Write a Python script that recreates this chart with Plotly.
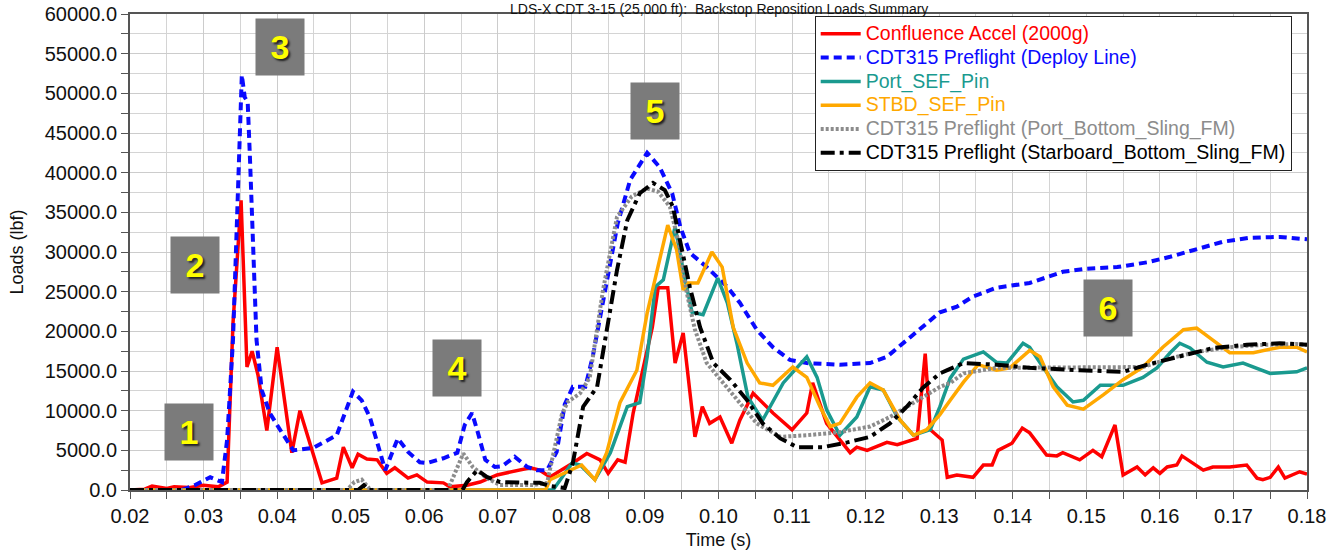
import plotly.graph_objects as go

# ---------------- data (time in s, loads in lbf) ----------------
confluence_accel = [(0.020,0),(0.022,100),(0.023,500),(0.025,200),(0.026,400),(0.028,300),(0.030,600),(0.032,400),
    (0.0332,1000),(0.034,21000),(0.0351,36500),(0.0354,29000),(0.0359,15500),(0.0366,17500),(0.0374,14500),(0.0386,7500),
    (0.040,18000),(0.042,4700),(0.0431,10000),(0.0461,900),(0.0481,1500),(0.049,5400),(0.0502,2800),(0.051,4500),
    (0.0522,3900),(0.0536,3800),(0.0549,2100),(0.056,2800),(0.0578,1500),(0.059,1900),(0.0604,1000),(0.0626,900),
    (0.0635,400),(0.0658,600),(0.0676,1000),(0.0699,1900),(0.0744,2800),(0.0757,2500),(0.0771,1650),(0.0802,3400),
    (0.0821,4600),(0.0839,3800),(0.085,2100),(0.0863,3800),(0.0873,3500),(0.0884,9700),(0.0897,15100),(0.091,20500),
    (0.0918,25500),(0.0931,25500),(0.0941,16000),(0.0952,19800),(0.0968,6700),(0.0978,10500),(0.0988,8400),(0.1002,9200),
    (0.1018,5900),(0.1029,8800),(0.1047,12200),(0.1074,9700),(0.110,7600),(0.112,9700),(0.1128,13500),(0.1147,8400),
    (0.1179,4700),(0.1188,5400),(0.1202,5000),(0.1229,6000),(0.1243,5700),(0.127,6500),(0.1281,17200),(0.1288,7600),
    (0.1304,6300),(0.1311,1600),(0.1324,1900),(0.1346,1600),(0.136,3150),(0.1372,3150),(0.138,5000),(0.1399,5900),
    (0.1413,7800),(0.1423,7200),(0.1446,4400),(0.146,4300),(0.1468,4700),(0.1491,3800),(0.1509,5000),(0.1521,4200),
    (0.1539,8200),(0.155,1900),(0.1569,2900),(0.158,1900),(0.1591,2800),(0.160,2100),(0.161,2900),(0.1623,3150),
    (0.163,4300),(0.1645,3400),(0.1659,2500),(0.1672,2900),(0.1695,2900),(0.1718,3150),(0.1732,1500),(0.174,1300),
    (0.175,1600),(0.1761,2900),(0.177,1500),(0.179,2300),(0.180,2000)]

deploy_line = [(0.020,0),(0.027,0),(0.0288,600),(0.0309,1600),(0.0325,1000),(0.0332,6300),(0.034,18900),(0.0347,37800),
    (0.0352,52300),(0.0356,49500),(0.036,48900),(0.0363,42000),(0.0367,30600),(0.0372,18900),(0.0379,12600),(0.039,9700),
    (0.0404,7600),(0.0422,5000),(0.0449,5300),(0.0481,6900),(0.0503,12400),(0.0515,11300),(0.0526,9200),(0.0536,5900),
    (0.0547,2500),(0.0564,6500),(0.0578,4800),(0.0594,3500),(0.0604,3400),(0.0626,4000),(0.0645,4700),(0.0655,8200),
    (0.0665,9700),(0.0673,7200),(0.0683,3800),(0.0696,2900),(0.0706,3000),(0.0723,4200),(0.074,2900),(0.0753,2500),
    (0.0767,2500),(0.078,4800),(0.0791,10800),(0.0802,13000),(0.0819,13000),(0.0829,16800),(0.0848,26500),(0.0863,33600),
    (0.088,39100),(0.0903,42500),(0.092,40700),(0.0937,37400),(0.0948,33200),(0.0961,29900),(0.0984,28100),(0.1012,25600),
    (0.1029,23600),(0.1052,20200),(0.1074,18000),(0.1097,16400),(0.112,16000),(0.1165,15800),(0.1206,16000),(0.1229,16800),
    (0.1256,18900),(0.1283,21000),(0.1301,22400),(0.1324,23100),(0.1346,24400),(0.1378,25500),(0.1423,26100),(0.1468,27500),
    (0.1501,27900),(0.1542,28100),(0.1583,28700),(0.1614,29400),(0.165,30300),(0.1686,31300),(0.1723,31800),(0.1763,31900),
    (0.180,31600)]

port_sef_pin = [(0.020,0),(0.0775,0),(0.0785,1300),(0.0801,3400),(0.0812,3150),(0.0832,1300),(0.0853,4700),(0.0876,10500),
    (0.0893,11000),(0.0903,16800),(0.0914,25600),(0.0925,26500),(0.0941,33200),(0.0952,27700),(0.0964,22400),(0.0979,22100),
    (0.0999,26700),(0.1012,23600),(0.1025,18500),(0.104,11700),(0.106,8800),(0.1088,13500),(0.112,16800),(0.1134,14200),
    (0.1147,10100),(0.1165,6900),(0.1188,9200),(0.1206,13000),(0.1224,12600),(0.1243,9200),(0.1265,6900),(0.1288,7600),
    (0.1301,10500),(0.1315,14100),(0.1333,16500),(0.136,17400),(0.1378,16100),(0.1392,16000),(0.1414,18500),(0.1423,18000),
    (0.1441,15500),(0.146,13000),(0.1482,11100),(0.1496,11300),(0.1519,13200),(0.155,13200),(0.1577,14200),(0.1596,15400),
    (0.1614,17300),(0.1627,18500),(0.1641,17900),(0.1664,16100),(0.1686,15500),(0.1713,16000),(0.175,14700),(0.1786,14900),
    (0.180,15400)]

stbd_sef_pin = [(0.020,0),(0.0765,0),(0.0771,1300),(0.0798,2500),(0.0814,3150),(0.0832,1300),(0.0848,4700),(0.0866,11000),
    (0.0889,15100),(0.0903,22300),(0.0918,28100),(0.0931,33400),(0.0943,30300),(0.0952,25200),(0.0959,26100),(0.0972,26100),
    (0.0991,30000),(0.1005,28100),(0.102,20500),(0.1039,16000),(0.1056,13500),(0.1074,13200),(0.1101,15500),(0.112,14200),
    (0.1138,10500),(0.1152,8000),(0.1165,8400),(0.1188,11700),(0.1206,13500),(0.1224,12600),(0.1247,8800),(0.1265,6900),
    (0.1283,7600),(0.1301,9500),(0.1315,11300),(0.1333,13600),(0.1353,15800),(0.1378,15100),(0.1396,15400),(0.1423,17600),
    (0.1437,16800),(0.1455,13000),(0.1474,10700),(0.1496,10200),(0.1523,12000),(0.155,13900),(0.1577,15500),(0.1604,18000),
    (0.1632,20200),(0.165,20400),(0.1672,18900),(0.1695,17300),(0.1727,17300),(0.1763,18000),(0.1786,18000),(0.180,17400)]

port_bottom_sling = [(0.020,0),(0.0495,0),(0.0505,1000),(0.0515,1300),(0.0525,200),(0.053,0),(0.0632,0),(0.0646,2900),
    (0.0653,4600),(0.0666,2900),(0.0685,1500),(0.0703,630),(0.0748,630),(0.0767,900),(0.0778,5400),(0.0787,9500),
    (0.0795,11100),(0.0812,12200),(0.0825,14200),(0.0843,25200),(0.0862,34400),(0.0882,37000),(0.0903,38000),(0.0918,37600),
    (0.0934,35700),(0.0945,31500),(0.0957,24800),(0.0968,20200),(0.0984,16000),(0.1006,13500),(0.1029,11000),(0.1052,8400),
    (0.1084,6700),(0.112,6900),(0.1165,7300),(0.1206,8000),(0.1233,9200),(0.1256,10500),(0.1278,11700),(0.1301,13000),
    (0.1315,13500),(0.1333,14700),(0.1378,15400),(0.155,15400),(0.1577,15500),(0.1614,16600),(0.165,17400),(0.1695,18000),
    (0.174,18300),(0.1786,18400),(0.180,18300)]

stbd_bottom_sling = [(0.020,0),(0.051,0),(0.0518,600),(0.0525,0),(0.0652,0),(0.0658,1000),(0.0672,2500),(0.0685,1650),
    (0.0703,1000),(0.073,900),(0.0757,900),(0.0771,500),(0.0791,250),(0.0802,3400),(0.0816,10500),(0.0835,13000),
    (0.0848,20200),(0.0862,27700),(0.0876,34000),(0.0893,37400),(0.0911,38700),(0.0927,37800),(0.0938,35700),(0.0948,31500),
    (0.0961,25600),(0.0975,20500),(0.0993,16000),(0.1016,13900),(0.1039,11300),(0.106,8400),(0.1084,6500),(0.1107,5400),
    (0.1142,5400),(0.1175,6000),(0.1206,6700),(0.1233,8400),(0.1256,10500),(0.1278,12900),(0.1301,14700),(0.1311,15100),
    (0.1333,16000),(0.1378,15800),(0.1423,15400),(0.1491,15100),(0.155,14900),(0.1583,15800),(0.1627,16800),(0.1672,17900),
    (0.1718,18300),(0.1763,18500),(0.180,18300)]

series_names = ["Confluence Accel (2000g)", "CDT315 Preflight (Deploy Line)", "Port_SEF_Pin", "STBD_SEF_Pin",
                "CDT315 Preflight (Port_Bottom_Sling_FM)", "CDT315 Preflight (Starboard_Bottom_Sling_FM)"]

# numbered callouts: (label, time, load)
callouts = [("1", 0.0280, 7300), ("2", 0.0288, 28400), ("3", 0.0404, 55800),
            ("4", 0.0645, 15400), ("5", 0.0914, 47800), ("6", 0.1530, 22900)]

title_text = "LDS-X CDT 3-15 (25,000 ft):  Backstop Reposition Loads Summary"

# ---------------- styles ----------------
styles = [
    dict(color="#ff0000", width=3.5, dash="solid"),
    dict(color="#0a0aff", width=4, dash="8px,5px"),
    dict(color="#1a9a8f", width=3.5, dash="solid"),
    dict(color="#ffa800", width=3.5, dash="solid"),
    dict(color="#8c8c8c", width=4, dash="3px,2px"),
    dict(color="#000000", width=4, dash="14px,5px,4px,5px"),
]
all_series = [confluence_accel, deploy_line, port_sef_pin, stbd_sef_pin, port_bottom_sling, stbd_bottom_sling]

FONT = "Arial, Liberation Sans, sans-serif"
fig = go.Figure()
for data, name, st in zip(all_series, series_names, styles):
    fig.add_trace(go.Scatter(
        x=[p[0] for p in data], y=[p[1] for p in data], mode="lines",
        name=f"<span style='color:{st['color']};font-size:19.5px'>{name}</span>",
        line=dict(color=st["color"], width=st["width"], dash=st["dash"]),
    ))

for label, tx, ty in callouts:
    fig.add_annotation(x=tx, y=ty, xref="x", yref="y", text=f"<b>{label}</b>", showarrow=False,
                       width=48, height=56, bgcolor="#7b7b7b", borderpad=0,
                       font=dict(family=FONT, size=34, color="#ffff00", shadow="2px 2px 2px #222"))

# chart title, kept fully inside the thin top margin
fig.add_annotation(x=0.5, y=1, xref="paper", yref="paper", xanchor="center", yanchor="top",
                   text=title_text, showarrow=False, yshift=14, borderpad=0,
                   font=dict(family=FONT, size=14, color="#111"))

axis_common = dict(showline=True, linecolor="#555", linewidth=2, mirror=True, automargin=False,
                   showgrid=True, gridcolor="#cccccc", gridwidth=1, zeroline=False,
                   ticks="outside", ticklen=7, tickcolor="#555",
                   tickfont=dict(family=FONT, size=20, color="#111"))

fig.update_xaxes(range=[0.02, 0.18], dtick=0.01, tick0=0.02, tickformat=".2f",
                 minor=dict(dtick=0.005, showgrid=True, gridcolor="#d4d4d4", ticks="outside", ticklen=7, tickcolor="#555"),
                 title=dict(text="Time (s)", font=dict(family=FONT, size=18, color="#111"), standoff=8),
                 **axis_common)
fig.update_yaxes(range=[0, 60000], dtick=5000, tickformat=".1f",
                 minor=dict(dtick=2500, showgrid=True, gridcolor="#d4d4d4", ticks="outside", ticklen=7, tickcolor="#555"),
                 title=dict(text="Loads (lbf)", font=dict(family=FONT, size=18, color="#111"), standoff=16),
                 **axis_common)

fig.update_layout(
    width=1338, height=550,
    margin=dict(l=130, r=31, t=14, b=60),
    plot_bgcolor="white", paper_bgcolor="white",
    font=dict(family=FONT, size=16, color="#111"),
    legend=dict(x=0.987, y=0.996, xanchor="right", yanchor="top",
                bgcolor="white", bordercolor="#222", borderwidth=1,
                font=dict(family=FONT, size=16), tracegroupgap=0, itemwidth=40),
)

fig.write_html("out.html", config={"displayModeBar": False},
               post_script="document.body.style.margin='0';document.body.style.overflow='hidden';")
